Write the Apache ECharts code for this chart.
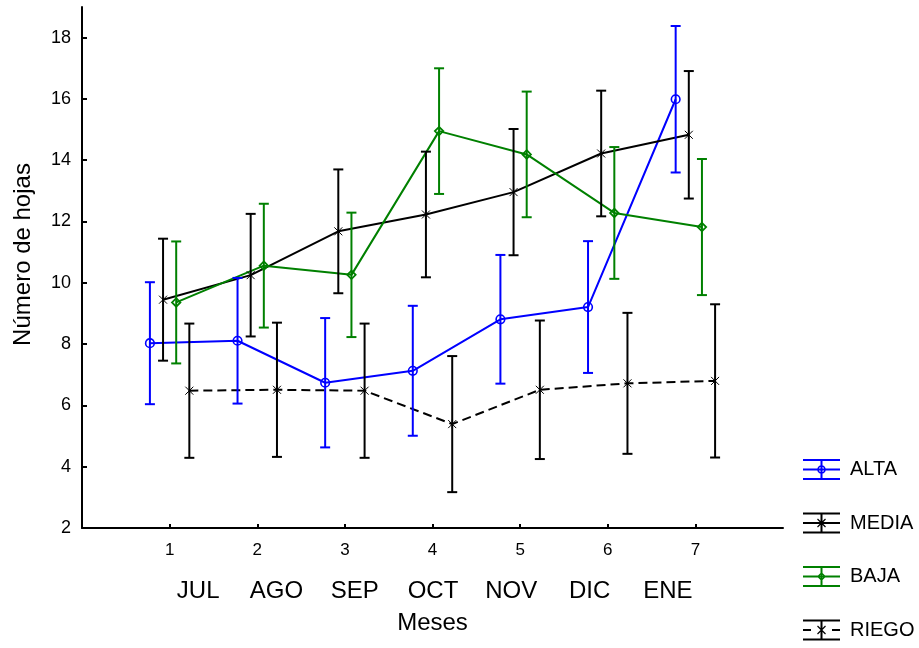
<!DOCTYPE html>
<html>
<head>
<meta charset="utf-8">
<script src="https://cdn.jsdelivr.net/npm/echarts@6/dist/echarts.min.js"></script>
<style>
  html, body { margin: 0; padding: 0; background: #fff; }
  #chart { width: 919px; height: 648px; }
</style>
</head>
<body>
<div id="chart"></div>
<script>
// Month index on the x axis and the month names printed under it
const monthNums = [1, 2, 3, 4, 5, 6, 7];
const monthNames = ['JUL', 'AGO', 'SEP', 'OCT', 'NOV', 'DIC', 'ENE'];
const yTicks = [2, 4, 6, 8, 10, 12, 14, 16, 18];

// Mean number of leaves and half-width of the error bar for each treatment
const altaMean  = [8.03, 8.11, 6.74, 7.13, 8.81, 9.21, 15.99];
const altaErr   = [1.99, 2.05, 2.11, 2.12, 2.10, 2.15, 2.39];
const mediaMean = [9.45, 10.25, 11.68, 12.23, 12.96, 14.22, 14.83];
const mediaErr  = [1.99, 2.00, 2.02, 2.05, 2.06, 2.05, 2.08];
const bajaMean  = [9.36, 10.56, 10.26, 14.95, 14.19, 12.28, 11.82];
const bajaErr   = [1.99, 2.02, 2.03, 2.05, 2.05, 2.15, 2.22];
const riegoMean = [6.48, 6.51, 6.48, 5.39, 6.51, 6.72, 6.80];
const riegoErr  = [2.19, 2.19, 2.19, 2.22, 2.26, 2.30, 2.50];

const FONT = "'Liberation Sans', Arial, Helvetica, sans-serif";
const BLUE = '#0000ff', GREEN = '#008000', BLACK = '#000000';

// each treatment is drawn slightly beside the month tick so the bars do not overlap
const GROUP_SHIFT = [-0.225, -0.075, 0.075, 0.225];

const groups = [
  { name: 'ALTA',  mean: altaMean,  err: altaErr,  color: BLUE,  marker: 'circle',   dashed: false },
  { name: 'MEDIA', mean: mediaMean, err: mediaErr, color: BLACK, marker: 'asterisk', dashed: false },
  { name: 'BAJA',  mean: bajaMean,  err: bajaErr,  color: GREEN, marker: 'diamond',  dashed: false },
  { name: 'RIEGO', mean: riegoMean, err: riegoErr, color: BLACK, marker: 'asterisk', dashed: true }
];

// legend glyphs: whisker with caps, a centre line and the marker (37 x 21 box)
const BARS = 'M0 0 H37 V2 H0 Z M0 19 H37 V21 H0 Z M17.5 0 H19.5 V21 H17.5 Z ';
const MID = 'M0 9.5 H37 V11.5 H0 Z ';
const STAR = 'M14.08 6.92 L14.92 6.08 L22.92 14.08 L22.08 14.92 Z M22.08 6.08 L22.92 6.92 L14.92 14.92 L14.08 14.08 Z ';
const ICONS = {
  ALTA: 'path://' + BARS + MID +
    'M22.8 10.5 A4.3 4.3 0 1 1 14.2 10.5 A4.3 4.3 0 1 1 22.8 10.5 Z M21.2 10.5 A2.7 2.7 0 1 0 15.8 10.5 A2.7 2.7 0 1 0 21.2 10.5 Z',
  MEDIA: 'path://' + BARS + MID + STAR,
  BAJA: 'path://' + BARS + MID +
    'M18.5 6 L23 10.5 L18.5 15 L14 10.5 Z M18.5 7.8 L15.8 10.5 L18.5 13.2 L21.2 10.5 Z',
  RIEGO: 'path://' + BARS + 'M0 9.5 H8 V11.5 H0 Z M29 9.5 H37 V11.5 H29 Z ' + STAR
};

function markerShape(kind, p, color) {
  const cx = p[0], cy = p[1];
  if (kind === 'circle') {
    return { type: 'circle', shape: { cx, cy, r: 4.3 }, style: { fill: 'none', stroke: color, lineWidth: 1.6 } };
  }
  if (kind === 'diamond') {
    return {
      type: 'polygon',
      shape: { points: [[cx, cy - 4.2], [cx + 4.2, cy], [cx, cy + 4.2], [cx - 4.2, cy]] },
      style: { fill: 'none', stroke: color, lineWidth: 1.8 }
    };
  }
  const s = 4, st = { stroke: color, lineWidth: 1 };
  return {
    type: 'group',
    children: [
      { type: 'line', shape: { x1: cx - s, y1: cy - s, x2: cx + s, y2: cy + s }, style: st },
      { type: 'line', shape: { x1: cx - s, y1: cy + s, x2: cx + s, y2: cy - s }, style: st },
      { type: 'line', shape: { x1: cx, y1: cy - s - 0.5, x2: cx, y2: cy + s + 0.5 }, style: st }
    ]
  };
}

function errorBarRenderer(color, marker) {
  return function (params, api) {
    const x = api.value(0), m = api.value(1), e = api.value(2);
    const top = api.coord([x, m + e]);
    const bot = api.coord([x, m - e]);
    const mid = api.coord([x, m]);
    const cap = 5;
    const st = { stroke: color, lineWidth: 2 };
    return {
      type: 'group',
      children: [
        { type: 'line', shape: { x1: top[0], y1: top[1], x2: bot[0], y2: bot[1] }, style: st },
        { type: 'line', shape: { x1: top[0] - cap, y1: top[1], x2: top[0] + cap, y2: top[1] }, style: st },
        { type: 'line', shape: { x1: bot[0] - cap, y1: bot[1], x2: bot[0] + cap, y2: bot[1] }, style: st },
        markerShape(marker, mid, color)
      ]
    };
  };
}

const series = [];
groups.forEach((g, gi) => {
  const xs = monthNums.map(m => m + GROUP_SHIFT[gi]);
  series.push({
    type: 'line',
    name: g.name,
    xAxisIndex: 0, yAxisIndex: 0,
    data: xs.map((x, i) => [x, g.mean[i]]),
    symbol: 'none',
    lineStyle: { color: g.color, width: 2, type: g.dashed ? [9, 5] : 'solid' },
    itemStyle: { color: g.color },
    z: 2
  });
  series.push({
    type: 'custom',
    name: g.name,
    xAxisIndex: 0, yAxisIndex: 0,
    data: xs.map((x, i) => [x, g.mean[i], g.err[i]]),
    encode: { x: 0, y: 1 },
    renderItem: errorBarRenderer(g.color, g.marker),
    itemStyle: { color: g.color },
    z: 3
  });
});

const chart = echarts.init(document.getElementById('chart'), null, { renderer: 'canvas' });
chart.setOption({
  animation: false,
  backgroundColor: '#ffffff',
  textStyle: { fontFamily: FONT, color: BLACK },
  grid: [
    { left: 82, top: 7, width: 701, height: 521 },
    { left: 159, top: 7, width: 548, height: 521, show: false }
  ],
  xAxis: [
    {
      type: 'value', gridIndex: 0, min: 0, max: 8,
      axisLine: { onZero: false, lineStyle: { color: BLACK, width: 2 } },
      axisTick: { inside: true, length: 4, lineStyle: { color: BLACK, width: 2 }, customValues: monthNums },
      axisLabel: { customValues: monthNums, color: BLACK, fontSize: 17, margin: 14, fontFamily: FONT },
      splitLine: { show: false },
      name: 'Meses', nameLocation: 'middle', nameGap: 83,
      nameTextStyle: { fontSize: 24, color: BLACK, fontFamily: FONT }
    },
    {
      type: 'category', gridIndex: 1, data: monthNames, boundaryGap: true,
      axisLine: { show: false }, axisTick: { show: false },
      axisLabel: { interval: 0, color: BLACK, fontSize: 24, margin: 51, fontFamily: FONT },
      splitLine: { show: false }
    }
  ],
  yAxis: [
    {
      type: 'value', gridIndex: 0, min: 2, max: 19,
      axisLine: { onZero: false, lineStyle: { color: BLACK, width: 2 } },
      axisTick: { inside: true, length: 5, lineStyle: { color: BLACK, width: 2 }, customValues: yTicks },
      axisLabel: { customValues: yTicks, color: BLACK, fontSize: 18, margin: 11, fontFamily: FONT },
      splitLine: { show: false },
      name: 'Número de hojas', nameLocation: 'middle', nameGap: 47, nameRotate: 90,
      nameTextStyle: { fontSize: 24, color: BLACK, fontFamily: FONT, padding: [0, 0, 0, 26] }
    },
    { type: 'value', gridIndex: 1, show: false }
  ],
  legend: {
    orient: 'vertical', left: 803, top: 459, height: 189,
    padding: 0,
    itemWidth: 37, itemHeight: 21, itemGap: 32.5,
    selectedMode: false,
    textStyle: { fontSize: 20, color: BLACK, fontFamily: FONT, padding: [0, 0, 0, 5] },
    data: groups.map(g => ({
      name: g.name,
      icon: ICONS[g.name],
      itemStyle: { color: g.color, borderWidth: 0 }
    }))
  },
  series: series
});
</script>
</body>
</html>
